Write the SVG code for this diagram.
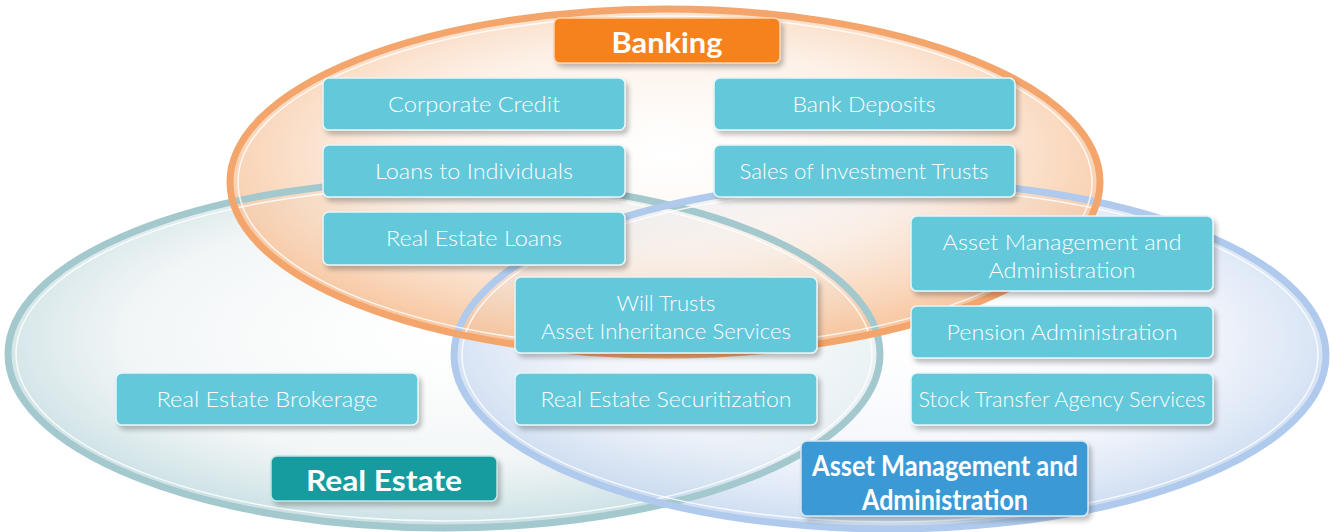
<svg xmlns="http://www.w3.org/2000/svg" width="1330" height="532" viewBox="0 0 1330 532">
<defs>
<radialGradient id="gO" cx="50%" cy="42%" r="55%">
<stop offset="0" stop-color="#FFFFFF" stop-opacity="0.5"/>
<stop offset="0.55" stop-color="#FCECDF" stop-opacity="0.7"/>
<stop offset="1" stop-color="#F7C39A" stop-opacity="0.9"/>
</radialGradient>
<radialGradient id="gT" cx="50%" cy="45%" r="55%">
<stop offset="0" stop-color="#FFFFFF" stop-opacity="0.5"/>
<stop offset="0.65" stop-color="#EEF3F4" stop-opacity="0.75"/>
<stop offset="1" stop-color="#C3DCE0" stop-opacity="0.9"/>
</radialGradient>
<radialGradient id="gB" cx="50%" cy="45%" r="55%">
<stop offset="0" stop-color="#FFFFFF" stop-opacity="0.5"/>
<stop offset="0.65" stop-color="#EEF2FA" stop-opacity="0.75"/>
<stop offset="1" stop-color="#C6D8F0" stop-opacity="0.9"/>
</radialGradient>
<filter id="sh" x="-10%" y="-20%" width="125%" height="160%">
<feGaussianBlur in="SourceAlpha" stdDeviation="2.5"/>
<feOffset dx="3" dy="4" result="b"/>
<feComponentTransfer><feFuncA type="linear" slope="0.25"/></feComponentTransfer>
<feMerge><feMergeNode/><feMergeNode in="SourceGraphic"/></feMerge>
</filter>
</defs>
<style>
.box{fill:#62C8DA;stroke:#E6F6F9;stroke-width:1.5;filter:url(#sh)}
.t{font-family:Lato,"Open Sans","Liberation Sans",sans-serif;font-weight:300;font-size:22px;fill:#FFFFFF;text-anchor:middle}
.h{font-family:Lato,"Open Sans","Liberation Sans",sans-serif;font-weight:700;font-size:29px;fill:#FFFFFF;text-anchor:middle}
.rimO{fill:none;stroke:#F4A56C;stroke-width:7}
.rimT{fill:none;stroke:#A3C8CD;stroke-width:7}
.rimB{fill:none;stroke:#AFCAEC;stroke-width:7}
.hl{fill:none;stroke:#FFFFFF;stroke-width:1.5;stroke-opacity:0.8}
</style>

<g id="circles">
<ellipse cx="444" cy="354" rx="436" ry="174" fill="url(#gT)"/>
<ellipse cx="890" cy="355" rx="436" ry="174" fill="url(#gB)"/>
<ellipse cx="665" cy="182" rx="435" ry="173" fill="url(#gO)"/>
<ellipse class="rimT" cx="444" cy="354" rx="436" ry="174"/>
<ellipse class="hl" cx="444" cy="354" rx="428" ry="167"/>
<ellipse class="rimB" cx="890" cy="355" rx="436" ry="174"/>
<ellipse class="hl" cx="890" cy="355" rx="428" ry="167"/>
<ellipse class="rimO" cx="665" cy="182" rx="435" ry="173"/>
<ellipse class="hl" cx="665" cy="182" rx="427" ry="166"/>
</g>

<g id="connectors"></g>

<g id="banking-label">
<rect x="554" y="18" width="226" height="45" rx="6" fill="#F5821F" stroke="#FBD3B0" stroke-width="1.5" filter="url(#sh)"/>
<text class="h" x="667" y="53" textLength="111" lengthAdjust="spacingAndGlyphs">Banking</text>
</g>
<g id="corporate-credit">
<rect class="box" x="323" y="78" width="302" height="52" rx="6"/>
<text class="t" x="474" y="112" textLength="172" lengthAdjust="spacingAndGlyphs">Corporate Credit</text>
</g>
<g id="bank-deposits">
<rect class="box" x="714" y="78" width="301" height="52" rx="6"/>
<text class="t" x="864" y="112" textLength="143" lengthAdjust="spacingAndGlyphs">Bank Deposits</text>
</g>
<g id="loans-to-individuals">
<rect class="box" x="323" y="145" width="302" height="52" rx="6"/>
<text class="t" x="474" y="179" textLength="198" lengthAdjust="spacingAndGlyphs">Loans to Individuals</text>
</g>
<g id="sales-of-investment-trusts">
<rect class="box" x="714" y="145" width="301" height="52" rx="6"/>
<text class="t" x="864" y="179" textLength="249" lengthAdjust="spacingAndGlyphs">Sales of Investment Trusts</text>
</g>
<g id="real-estate-loans">
<rect class="box" x="323" y="212" width="302" height="53" rx="6"/>
<text class="t" x="474" y="246" textLength="176" lengthAdjust="spacingAndGlyphs">Real Estate Loans</text>
</g>
<g id="asset-management-box">
<rect class="box" x="911" y="216" width="302" height="75" rx="6"/>
<text class="t" x="1062" y="250" textLength="239" lengthAdjust="spacingAndGlyphs">Asset Management and</text>
<text class="t" x="1062" y="278" textLength="147" lengthAdjust="spacingAndGlyphs">Administration</text>
</g>
<g id="will-trusts">
<rect class="box" x="515" y="277" width="302" height="76" rx="6"/>
<text class="t" x="666" y="311" textLength="99" lengthAdjust="spacingAndGlyphs">Will Trusts</text>
<text class="t" x="666" y="339" textLength="250" lengthAdjust="spacingAndGlyphs">Asset Inheritance Services</text>
</g>
<g id="pension-administration">
<rect class="box" x="911" y="306" width="302" height="52" rx="6"/>
<text class="t" x="1062" y="340" textLength="231" lengthAdjust="spacingAndGlyphs">Pension Administration</text>
</g>
<g id="real-estate-brokerage">
<rect class="box" x="116" y="373" width="302" height="52" rx="6"/>
<text class="t" x="267" y="407" textLength="221" lengthAdjust="spacingAndGlyphs">Real Estate Brokerage</text>
</g>
<g id="real-estate-securitization">
<rect class="box" x="515" y="373" width="302" height="52" rx="6"/>
<text class="t" x="666" y="407" textLength="251" lengthAdjust="spacingAndGlyphs">Real Estate Securitization</text>
</g>
<g id="stock-transfer">
<rect class="box" x="911" y="373" width="302" height="52" rx="6"/>
<text class="t" x="1062" y="407" textLength="287" lengthAdjust="spacingAndGlyphs">Stock Transfer Agency Services</text>
</g>
<g id="real-estate-label">
<rect x="271" y="456" width="226" height="45" rx="6" fill="#159C9E" stroke="#BFE3E4" stroke-width="1.5" filter="url(#sh)"/>
<text class="h" x="384" y="491" textLength="156" lengthAdjust="spacingAndGlyphs">Real Estate</text>
</g>
<g id="asset-management-label">
<rect x="801" y="441" width="287" height="75" rx="6" fill="#3A9AD6" stroke="#D3E7F5" stroke-width="1.5" filter="url(#sh)"/>
<text class="h" x="945" y="476" textLength="266" lengthAdjust="spacingAndGlyphs">Asset Management and</text>
<text class="h" x="945" y="510" textLength="166" lengthAdjust="spacingAndGlyphs">Administration</text>
</g>
</svg>
